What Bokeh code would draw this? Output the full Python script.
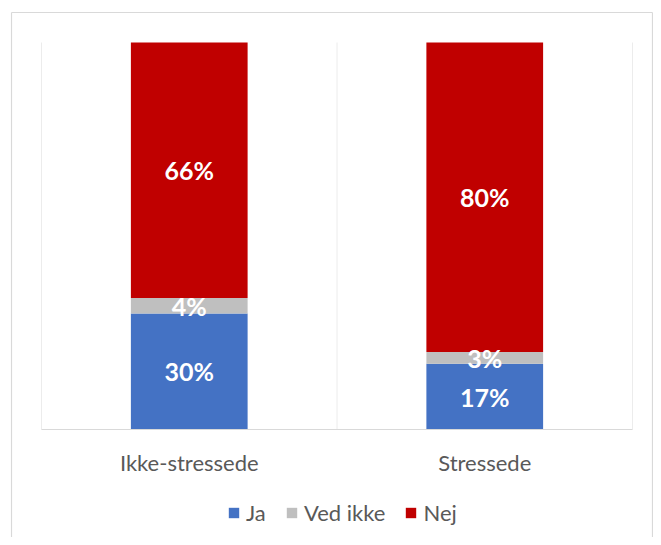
from bokeh.plotting import figure
from bokeh.models import ColumnDataSource, Legend, LegendItem
from bokeh.core.properties import value
from bokeh.embed import file_html
from bokeh.resources import INLINE

categories = ["Ikke-stressede", "Stressede"]
series_names = ["Ja", "Ved ikke", "Nej"]
ja = [30, 17]
ved_ikke = [4, 3]
nej = [66, 80]
colors = ["#4472C4", "#BFBFBF", "#C00000"]

W, H = 653, 537
# layout geometry (pixels)
frame_l, frame_t, frame_r, frame_b = 10, 11, 653, 537
box_l, box_t, box_r = 11, 12, 652
area_l, area_t, area_r, area_b = 41, 42, 632, 429
n = len(categories)
ppx = (area_r - area_l) / n
ppy = (area_b - area_t) / 100.0
def dx(px):
    return (px - area_l) / ppx
def dy(py):
    return (area_b - py) / ppy

p = figure(width=W, height=H, x_range=(dx(frame_l), dx(frame_r)), y_range=(dy(frame_b), dy(frame_t)),
           output_backend="svg", toolbar_location=None,
           x_axis_location=None, y_axis_location=None,
           min_border_left=frame_l, min_border_top=frame_t,
           min_border_right=W - frame_r, min_border_bottom=H - frame_b)
p.outline_line_color = None
p.xgrid.visible = False
p.ygrid.visible = False
p.background_fill_color = "white"

# chart border (left, top, right)
bx0 = [dx(box_l), dx(box_l), dx(box_r)]
by0 = [dy(frame_b), dy(box_t), dy(box_t)]
bx1 = [dx(box_l), dx(box_r), dx(box_r)]
by1 = [dy(box_t), dy(box_t), dy(frame_b)]
p.segment(x0=bx0, y0=by0, x1=bx1, y1=by1, line_color="#d9d9d9", line_width=1.2)

# vertical gridlines at category boundaries
gx = list(range(n + 1))
p.segment(x0=gx, y0=[0] * len(gx), x1=gx, y1=[100] * len(gx), line_color="#ececec", line_width=1)

xs = [i + 0.5 for i in range(n)]
src = ColumnDataSource(dict(x=xs, Ja=ja, **{"Ved ikke": ved_ikke}, Nej=nej))
rs = p.vbar_stack(series_names, x="x", width=0.395, color=colors, source=src, line_color=None)

# category axis line and labels
p.segment(x0=[0], y0=[0], x1=[n], y1=[0], line_color="#d9d9d9", line_width=1.2)
p.text(x=xs, y=[0] * n, text=categories, text_color="#595959", text_font=value("Lato"),
       text_font_size="22px", text_align="center", text_baseline="middle", y_offset=33)

# data labels
lx, ly, lt = [], [], []
for i in range(n):
    base = 0
    for vals in (ja, ved_ikke, nej):
        v = vals[i]
        lx.append(xs[i]); ly.append(base + v / 2); lt.append(f"{v}%")
        base += v
p.text(x=lx, y=ly, text=lt, text_color="white", text_font=value("Lato"),
       text_font_style="bold", text_font_size="25px", text_align="center", text_baseline="middle")

legend = Legend(items=[LegendItem(label=nm, renderers=[r]) for nm, r in zip(series_names, rs)],
                orientation="horizontal", location=(217, 11),
                glyph_width=13, glyph_height=13, label_standoff=6, spacing=19, label_height=22,
                label_text_font="Lato", label_text_font_size="22px", label_text_color="#595959",
                label_text_baseline="middle",
                border_line_color=None, background_fill_alpha=0, margin=0, padding=0)
p.add_layout(legend)

open("out.html", "w").write(file_html(p, INLINE))
